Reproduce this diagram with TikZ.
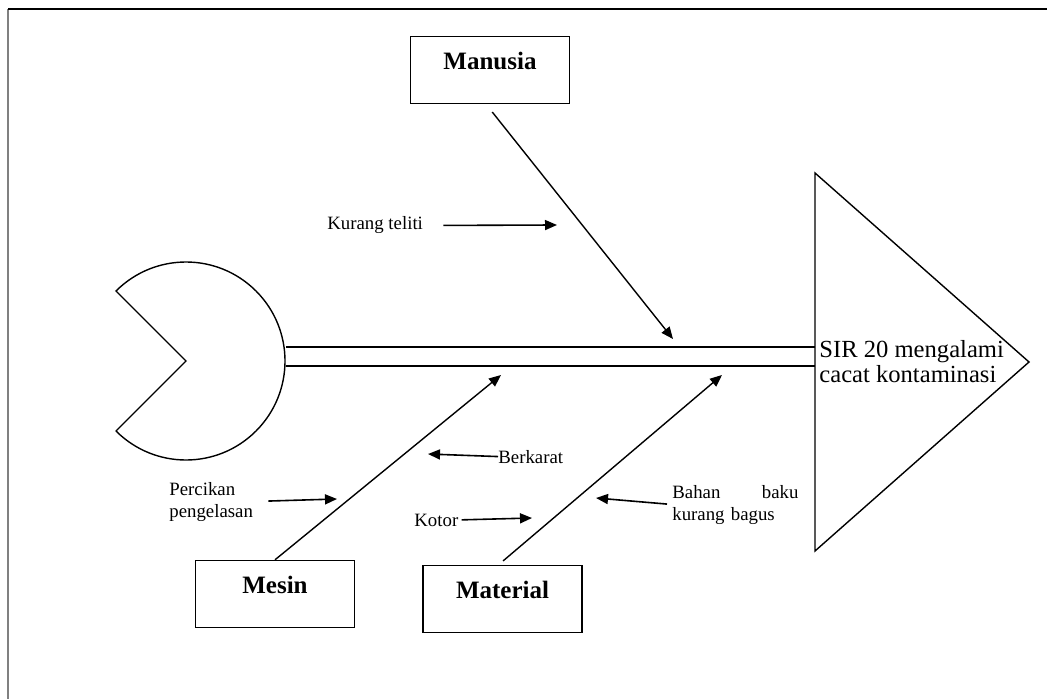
\documentclass[tikz,border=0pt]{standalone}
\usepackage{fontspec}
\setmainfont{Liberation Serif}
\usetikzlibrary{arrows.meta,positioning}
\tikzset{>={Triangle[length=6pt,width=5pt]}}
\tikzset{causebox/.style={draw, rectangle, line width=0.7pt,
    minimum width=79.5pt, minimum height=33.5pt, inner sep=0pt}}
\tikzset{causetext/.style={font=\fontsize{12.5}{14}\selectfont\bfseries, inner sep=0pt}}
\tikzset{subtext/.style={font=\fontsize{9.4}{11}\selectfont, inner sep=0pt, align=left}}
\tikzset{bone/.style={->, line width=0.7pt}}
\tikzset{subarrow/.style={->, line width=0.8pt}}

\begin{document}
\begin{tikzpicture}[x=0.5pt, y=-0.5pt]
    \useasboundingbox (0,0) rectangle (1047,699);
    % frame
    \draw[gray, line width=0.8pt] (8,9) -- (8,699);
    \draw[line width=0.6pt] (8,9) -- (1047,9);

    % tail, spine and head
    \coordinate (tail) at (186,361);
    \draw[line width=0.7pt] (116,431) -- (tail) -- (116,291)
        arc[start angle=135, end angle=-135, radius=49.5pt] -- cycle;
    \draw[line width=0.7pt] (286,347) -- (815,347);
    \draw[line width=0.7pt] (286,366) -- (815,366);
    \draw[line width=0.7pt] (815,173) -- (1029,362) -- (815,551) -- cycle;
    \node (effect) [anchor=base west, align=left, inner sep=0pt,
        font=\fontsize{12.3}{12.5}\selectfont] at (819,382) {SIR 20 mengalami\\cacat kontaminasi};

    % cause boxes
    \node[causebox] (manusia) at (490,70) {};
    \node[causebox] (mesin) at (275,594) {};
    \node[causebox] (material) at (502.5,599) {};
    \node[causetext] (manusialabel) [below=8pt of manusia.north] {Manusia};
    \node[causetext] (mesinlabel) [below=8pt of mesin.north] {Mesin};
    \node[causetext] (materiallabel) [below=8pt of material.north] {Material};

    % bones
    \coordinate (manusiatip) at (673,339);
    \coordinate (mesintip) at (501,375);
    \coordinate (materialtip) at (722,375);
    \draw[bone, shorten <=5pt] ([xshift=-2pt]manusia.south) -- (manusiatip);
    \draw[bone] (mesin.north) -- (mesintip);
    \draw[bone, shorten <=3pt] ([xshift=-2pt]material.north) -- (materialtip);

    % sub causes
    \node[subtext, anchor=base west] (kurang) at (327,230) {Kurang teliti};
    \node[subtext, anchor=base west] (percikan) at (169,517) {Percikan\\pengelasan};
    \node[subtext, anchor=base west] (berkarat) at (498,463) {Berkarat};
    \node[subtext, anchor=base west] (kotor) at (414,526) {Kotor};
    \node[subtext, anchor=base west, text width=63pt] (bahan) at (672,498) {Bahan\hfill baku\\kurang bagus};

    \coordinate (kurangtip) at (557,225);
    \coordinate (percikantip) at (337,499);
    \coordinate (berkarattip) at (428,454);
    \coordinate (kotortip) at (532,518);
    \coordinate (bahantip) at (596,498);
    \draw[subarrow, shorten <=10pt] (kurang.east) -- (kurangtip);
    \draw[subarrow, shorten <=7.5pt] (percikan.east) -- (percikantip);
    \draw[subarrow] (berkarat.west) -- (berkarattip);
    \draw[subarrow, shorten <=1.5pt] (kotor.east) -- (kotortip);
    \draw[subarrow, shorten <=2.5pt] (bahan.west) -- (bahantip);
\end{tikzpicture}
\end{document}
